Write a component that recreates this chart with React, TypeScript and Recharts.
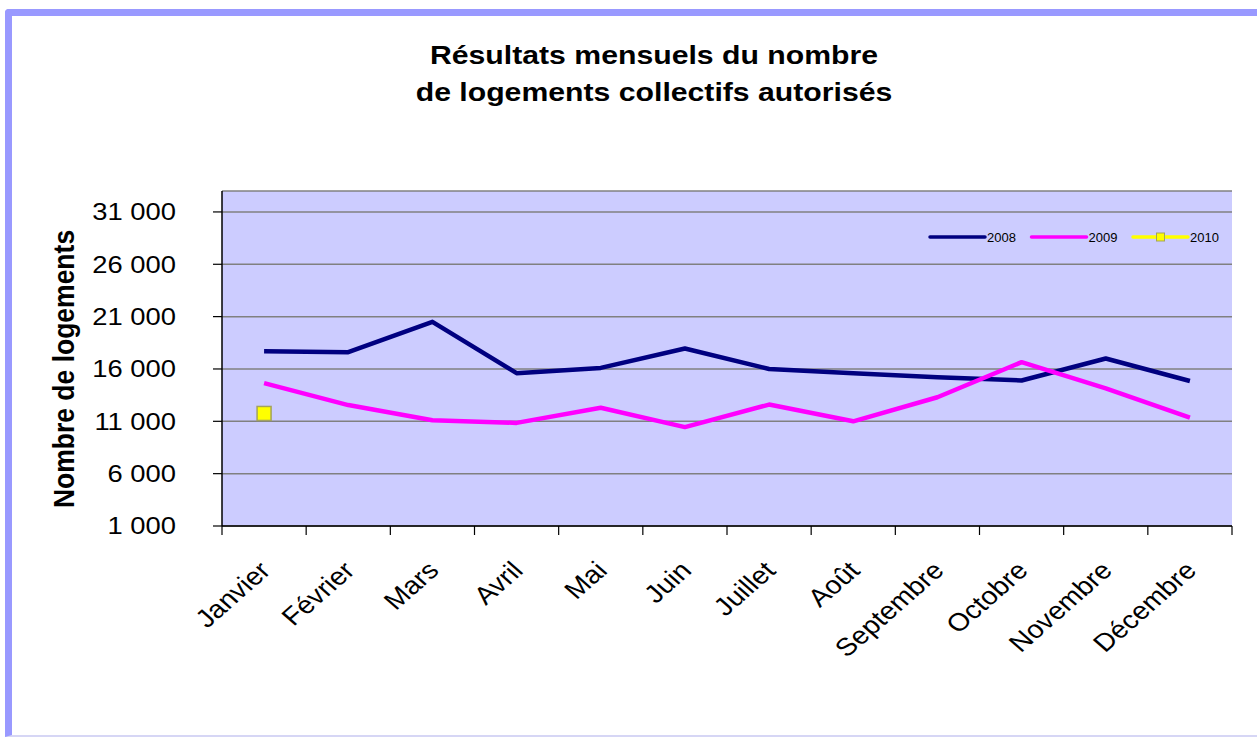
import React from 'react';
import { LineChart, Line, XAxis, YAxis, CartesianGrid, Legend } from 'recharts';

const MONTHS = ['Janvier', 'Février', 'Mars', 'Avril', 'Mai', 'Juin', 'Juillet', 'Août', 'Septembre', 'Octobre', 'Novembre', 'Décembre'];
const VALUES_2008 = [17700, 17600, 20500, 15600, 16100, 17950, 16000, 15600, 15200, 14900, 17000, 14850];
const VALUES_2009 = [14650, 12550, 11100, 10850, 12300, 10450, 12600, 11000, 13300, 16650, 14150, 11350];
const VALUES_2010 = [11750, null, null, null, null, null, null, null, null, null, null, null];
const Y_TICKS = [1000, 6000, 11000, 16000, 21000, 26000, 31000];

const SERIES = [
  { key: 'y2008', name: '2008', color: '#000080', marker: false },
  { key: 'y2009', name: '2009', color: '#ff00ff', marker: false },
  { key: 'y2010', name: '2010', color: '#ffff00', marker: true },
];

const data = MONTHS.map((month, i) => ({
  month,
  y2008: VALUES_2008[i],
  y2009: VALUES_2009[i],
  y2010: VALUES_2010[i],
}));

const W = 1257;
const H = 738;
const LEFT = 222;
const RIGHT = 25;
const STEP = (W - LEFT - RIGHT) / MONTHS.length;
// the source picture is slightly stretched horizontally
const SX = 1.14;
const FONT = '"Liberation Sans", Arial, sans-serif';

const fmt = (v: number) => String(v).replace(/\B(?=(\d{3})+(?!\d))/g, ' ');

const YTick = ({ x, y, payload }: any) => (
  <text
    transform={`translate(${x},${y}) scale(${SX},1)`}
    textAnchor="end"
    dominantBaseline="central"
    fontSize={24}
    fontFamily={FONT}
    fill="#000"
  >
    {fmt(payload.value)}
  </text>
);

const MonthTick = ({ x, y, payload, index }: any) => (
  <g>
    <line x1={x - STEP / 2} x2={x - STEP / 2} y1={y} y2={y + 9} stroke="#000" strokeWidth={1.2} />
    {index === MONTHS.length - 1 && (
      <line x1={x + STEP / 2} x2={x + STEP / 2} y1={y} y2={y + 9} stroke="#000" strokeWidth={1.2} />
    )}
    <text
      transform={`translate(${x + 8},${y + 46}) scale(${SX},1) rotate(-45)`}
      textAnchor="end"
      fontSize={25}
      fontFamily={FONT}
      fill="#000"
    >
      {payload.value}
    </text>
  </g>
);

const SquareDot = ({ cx, cy, value }: any) => {
  if (value == null || cx == null || cy == null) return null;
  return <rect x={cx - 7} y={cy - 7} width={14} height={14} fill="#ffff00" stroke="#a3a35c" strokeWidth={1.5} />;
};

const LegendBox = () => (
  <svg width={300} height={20}>
    {SERIES.map((s, i) => {
      const x0 = 2 + i * 101.5;
      return (
        <g key={s.key}>
          <line x1={x0} x2={x0 + 55} y1={9} y2={9} stroke={s.color} strokeWidth={3.5} strokeLinecap="round" />
          {s.marker && (
            <rect x={x0 + 23.5} y={5} width={8} height={8} fill="#ffff00" stroke="#a3a35c" strokeWidth={1} />
          )}
          <text x={x0 + 57} y={14} fontSize={13} fontFamily={FONT} fill="#000">
            {s.name}
          </text>
        </g>
      );
    })}
  </svg>
);

export default function App() {
  return (
    <div style={{ position: 'absolute', left: 0, top: 0, width: W, height: H, background: '#fff', overflow: 'hidden' }}>
      <div
        style={{
          position: 'absolute',
          left: 5,
          top: 9,
          width: W,
          height: H - 10,
          borderLeft: '7px solid #9999ff',
          borderTop: '7px solid #9999ff',
          borderBottom: '2px solid #d6d6f5',
          borderTopLeftRadius: 4,
          boxSizing: 'border-box',
        }}
      />
      <svg width={W} height={H} style={{ position: 'absolute', left: 0, top: 0 }}>
        <g fontFamily={FONT} fontWeight="bold" fontSize={26.5} fill="#000">
          <text transform={`translate(654,64) scale(${SX},1)`} textAnchor="middle">
            Résultats mensuels du nombre
          </text>
          <text transform={`translate(654,101) scale(${SX},1)`} textAnchor="middle">
            de logements collectifs autorisés
          </text>
          <text transform={`translate(74,369) scale(${SX},1) rotate(-90)`} textAnchor="middle" fontSize={26.5}>
            Nombre de logements
          </text>
        </g>
      </svg>
      <div style={{ position: 'absolute', left: 0, top: 0 }}>
        <LineChart width={W} height={H} data={data} margin={{ top: 191, right: RIGHT, bottom: 0, left: 0 }}>
          <CartesianGrid vertical={false} fill="#ccccff" stroke="#808080" strokeWidth={1.5} />
          <XAxis
            dataKey="month"
            height={212}
            interval={0}
            padding={{ left: STEP / 2, right: STEP / 2 }}
            tickLine={false}
            tickSize={0}
            tickMargin={0}
            axisLine={{ stroke: '#000', strokeWidth: 1.5 }}
            tick={<MonthTick />}
          />
          <YAxis
            width={LEFT}
            domain={[1000, 33000]}
            ticks={Y_TICKS}
            interval={0}
            tickSize={9}
            tickMargin={37}
            tickLine={{ stroke: '#000', strokeWidth: 1.2 }}
            axisLine={{ stroke: '#000', strokeWidth: 1.5 }}
            tick={<YTick />}
          />
          <Legend
            layout="horizontal"
            verticalAlign="middle"
            align="center"
            content={<LegendBox />}
            wrapperStyle={{ position: 'absolute', left: 928, top: 228, width: 300, height: 20 }}
          />
          <Line
            dataKey="y2008"
            name="2008"
            stroke="#000080"
            strokeWidth={4.5}
            strokeLinejoin="round"
            dot={false}
            isAnimationActive={false}
          />
          <Line
            dataKey="y2009"
            name="2009"
            stroke="#ff00ff"
            strokeWidth={4.5}
            strokeLinejoin="round"
            dot={false}
            isAnimationActive={false}
          />
          <Line
            dataKey="y2010"
            name="2010"
            stroke="#ffff00"
            strokeWidth={3}
            dot={<SquareDot />}
            isAnimationActive={false}
          />
        </LineChart>
      </div>
    </div>
  );
}
